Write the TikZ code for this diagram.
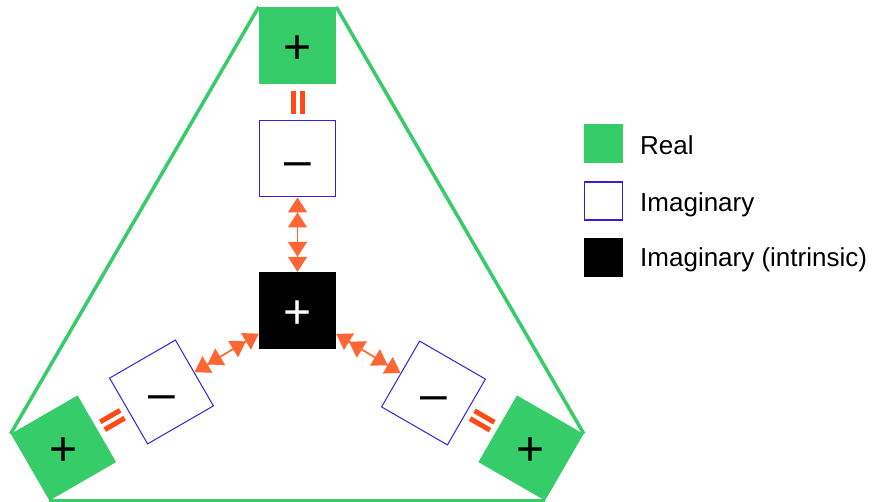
\documentclass[tikz,border=0pt]{standalone}
\usepackage{fontspec}
\setmainfont{Liberation Sans}
\usetikzlibrary{arrows.meta,calc}
\definecolor{realgreen}{RGB}{54,204,106}
\definecolor{imagblue}{RGB}{51,34,221}
\definecolor{arrowc}{RGB}{255,102,51}
\definecolor{eqc}{RGB}{255,74,26}
\tikzset{
  sqtext/.style={inner sep=0pt, font=\fontsize{48pt}{50pt}\selectfont, text height=36pt, text depth=0pt},
  sq/.style={sqtext, minimum size=77pt},
  realsq/.style={sq, fill=realgreen},
  imagsq/.style={sq, draw=imagblue, line width=1pt, fill=white, minimum size=76pt},
  intrsq/.style={sq, fill=black, text=white},
  tri/.style={draw=realgreen, line width=3.5pt},
  dblarrow/.style={draw=arrowc, line width=1.7pt,
    {Triangle[width=19pt,length=15pt]Triangle[width=19pt,length=15pt]}-{Triangle[width=19pt,length=15pt]Triangle[width=19pt,length=15pt]}},
  eqbar/.style={draw=eqc, line width=5pt},
  legsq/.style={minimum size=39pt, inner sep=0pt},
  legtxt/.style={anchor=base west, inner sep=0pt, font=\fontsize{26pt}{30pt}\selectfont}
}
\begin{document}
\begin{tikzpicture}[x=1pt,y=1pt]
\useasboundingbox (0,0) rectangle (875,502);
% nodes
\node[intrsq] (c) at (297.5,191.5) {+};
\node[imagsq] (m1) at (297.5,343) {–};
\node[realsq] (g1) at (297.5,456.5) {+};
\node[imagsq, rotate=30] (m2) at (161.5,110) {};
\node[sqtext] (m2t) at (m2.center) {–};
\node[realsq, rotate=30] (g2) at (63.5,54) {};
\node[sqtext] (g2t) at (g2.center) {+};
\node[imagsq, rotate=-30] (m3) at (433.5,109) {};
\node[sqtext] (m3t) at (m3.center) {–};
\node[realsq, rotate=-30] (g3) at (531,54) {};
\node[sqtext] (g3t) at (g3.center) {+};
% outer frame
\draw[tri] (g1.north west) -- (g2.north west);
\draw[tri] (g2.south west) -- (g3.south east);
\draw[tri] (g3.north east) -- (g1.north east);
% arrows
\draw[dblarrow] (c) -- (m1);
\draw[dblarrow] (c) -- (m2);
\draw[dblarrow] (c) -- (m3);
% equals signs
\begin{scope}[shift={($(g1)!0.5!(m1)$)}, rotate=90]
  \draw[eqbar] (-11.5,4.5) -- (11.5,4.5) (-11.5,-4.5) -- (11.5,-4.5);
\end{scope}
\begin{scope}[shift={($(g2)!0.5!(m2)$)}, rotate=30]
  \draw[eqbar] (-11.5,4.5) -- (11.5,4.5) (-11.5,-4.5) -- (11.5,-4.5);
\end{scope}
\begin{scope}[shift={($(g3)!0.5!(m3)$)}, rotate=-30]
  \draw[eqbar] (-11.5,4.5) -- (11.5,4.5) (-11.5,-4.5) -- (11.5,-4.5);
\end{scope}
% legend
\node[legsq, fill=realgreen] (l1) at (603.5,358) {};
\node[legsq, draw=imagblue, line width=1.2pt, minimum size=38pt] (l2) at (603.5,301) {};
\node[legsq, fill=black] (l3) at (603.5,244.5) {};
\node[legtxt] (t1) at (640,347) {Real};
\node[legtxt] (t2) at (640,290) {Imaginary};
\node[legtxt] (t3) at (640,235) {Imaginary (intrinsic)};
\end{tikzpicture}
\end{document}
